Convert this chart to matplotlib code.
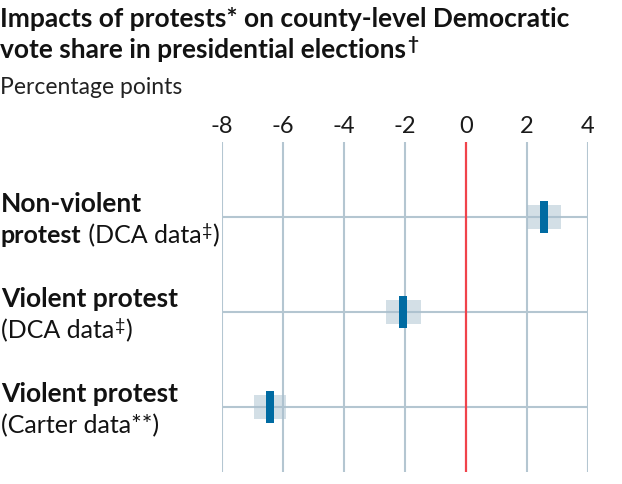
import matplotlib
matplotlib.use('Agg')
import matplotlib.pyplot as plt
from matplotlib.transforms import IdentityTransform

# Werte (Prozentpunkte)
rows = [0, 1, 2]
estimates = [2.56, -2.06, -6.43]
ci_low = [2.0, -2.62, -6.95]
ci_high = [3.1, -1.47, -5.9]
ticks = [-8, -6, -4, -2, 0, 2, 4]

# Beschriftungen: Zeilen aus (Text, Stil)-Teilen
row_labels = [
    [[("Non-violent", "bold")],
     [("protest", "bold"), (" (DCA data", "normal"), ("‡", "sup"), (")", "normal")]],
    [[("Violent protest", "bold")],
     [("(DCA data", "normal"), ("‡", "sup"), (")", "normal")]],
    [[("Violent protest", "bold")],
     [("(Carter data**)", "normal")]],
]

FONT = ['Lato', 'DejaVu Sans']
plt.rcParams['font.family'] = FONT

W, H = 622, 485
fig = plt.figure(figsize=(W / 100, H / 100), dpi=100)
ax = fig.add_axes([222 / W, (H - 473) / H, (588 - 222) / W, (473 - 143) / H])
ax.set_xlim(-8, 4)
ax.set_ylim(2 + 65 / 95, -75 / 95)

grid = '#b4c6d1'
for t in ticks:
    if t == 0:
        ax.axvline(t, color='#f0434b', lw=1.6, zorder=4)
    else:
        ax.axvline(t, color=grid, lw=1.5, zorder=1)
for r in rows:
    ax.axhline(r, color=grid, lw=1.5, zorder=1)

ax.barh(rows, [h - l for l, h in zip(ci_low, ci_high)], left=ci_low,
        height=0.245, color='#a9c0ce', alpha=0.5, zorder=2)
pw = 0.26
ax.barh(rows, pw, left=[e - pw / 2 for e in estimates], height=0.33,
        color='#006ba2', zorder=5)

ax.xaxis.tick_top()
ax.set_xticks(ticks)
ax.set_xticklabels([str(t) for t in ticks])
ax.tick_params(axis='x', length=0, pad=4, labelsize=17, labelcolor='#1a1a1a')
ax.set_yticks([])
for s in ax.spines.values():
    s.set_visible(False)

fig.canvas.draw()
renderer = fig.canvas.get_renderer()


def draw_runs(x, y_top, parts, size, color='#121212', sup_w='normal'):
    # y_top: Grundlinie in Pixeln von oben
    y = H - y_top
    for text, style in parts:
        if style == 'sup':
            t = fig.text(x + 1, y + size * 0.4, text, fontsize=size * 0.72,
                         va='baseline', ha='left', color=color, fontweight=sup_w,
                         transform=IdentityTransform())
        else:
            t = fig.text(x, y, text, fontsize=size, va='baseline', ha='left',
                         fontweight=style, color=color,
                         transform=IdentityTransform())
        x = t.get_window_extent(renderer).x1


# Titel und Untertitel
draw_runs(0, 27, [("Impacts of protests* on county-level Democratic", "bold")], 19, sup_w='bold')
draw_runs(0, 58, [("vote share in presidential elections", "bold"), ("†", "sup")], 19, sup_w='bold')
draw_runs(0, 94, [("Percentage points", "normal")], 16.5, color='#222222')

# Zeilenbeschriftungen, an den Datenzeilen ausgerichtet
for r, lines in zip(rows, row_labels):
    y_row = H - ax.transData.transform((0, r))[1]
    draw_runs(1, y_row - 6, lines[0], 19)
    draw_runs(1, y_row + 25, lines[1], 18)

fig.savefig('out.png', dpi=100)
